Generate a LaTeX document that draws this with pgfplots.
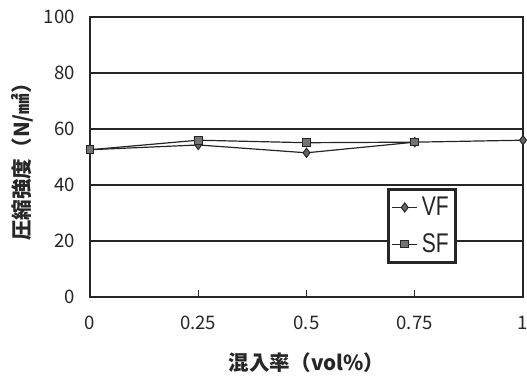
\documentclass[border=0pt]{standalone}
\usepackage{fontspec}
\setmainfont{Noto Sans CJK JP}
\newfontfamily\cond{Liberation Sans}[FakeStretch=0.78]
\usepackage{pgfplots}
\pgfplotsset{compat=1.18}
\begin{document}
\begin{tikzpicture}
\begin{axis}[
  scale only axis, width=216.5pt, height=140pt,
  xmin=0, xmax=1, ymin=0, ymax=100,
  xtick={0,0.25,0.5,0.75,1}, xticklabels={0,0.25,0.5,0.75,1},
  ytick={0,20,40,60,80,100},
  /pgf/number format/assume math mode=true,
  ymajorgrids, major grid style={black!85, line width=0.6pt},
  axis line style={black!85, line width=0.8pt},
  xtick pos=bottom, tick align=inside, major tick length=3.5pt,
  tick style={black!85, line width=0.6pt},
  ytick style={draw=none},
  ticklabel style={font=\fontsize{9.3}{10}\selectfont, text=black!85},
  xticklabel style={yshift=-6pt},
  yticklabel style={xshift=-4pt},
  xlabel={\bfseries 混入率（vol\%）},
  ylabel={\bfseries 圧縮強度（N/㎟）},
  label style={font=\fontsize{10.3}{12}\selectfont, text=black!85},
  xlabel style={at={(axis description cs:0.5,-0.236)}, anchor=center},
  ylabel style={at={(axis description cs:-0.157,0.5)}, anchor=center},
  legend style={at={(axis description cs:0.686,0.389)}, anchor=north west,
    draw=black!85, line width=1.6pt, fill=white,
    font=\cond\fontsize{13.5}{14}\selectfont, text=black!85,
    inner sep=1.5pt, row sep=3.5pt},
  legend cell align=left,
  legend image code/.code={\draw[line width=0.6pt, mark repeat=2, mark phase=2] plot coordinates {(0cm,0cm)(0.22cm,0cm)(0.44cm,0cm)};},
]
\addplot[black!85, line width=0.6pt, mark=diamond*, mark size=2.3pt,
  mark options={fill=black!60, draw=black!85, line width=0.5pt}]
  coordinates {(0,52.6)(0.25,54.3)(0.5,51.5)(0.75,55.3)(1,56)};
\addlegendentry{VF}
\addplot[black!85, line width=0.6pt, mark=square*, mark size=1.9pt,
  mark options={fill=black!55, draw=black!85, line width=0.5pt}]
  coordinates {(0,52.6)(0.25,56)(0.5,55.1)(0.75,55.3)};
\addlegendentry{SF}
\end{axis}
\pgfresetboundingbox
\useasboundingbox (-45pt,-39.5pt) rectangle (218.5pt,148.5pt);
\end{tikzpicture}
\end{document}
